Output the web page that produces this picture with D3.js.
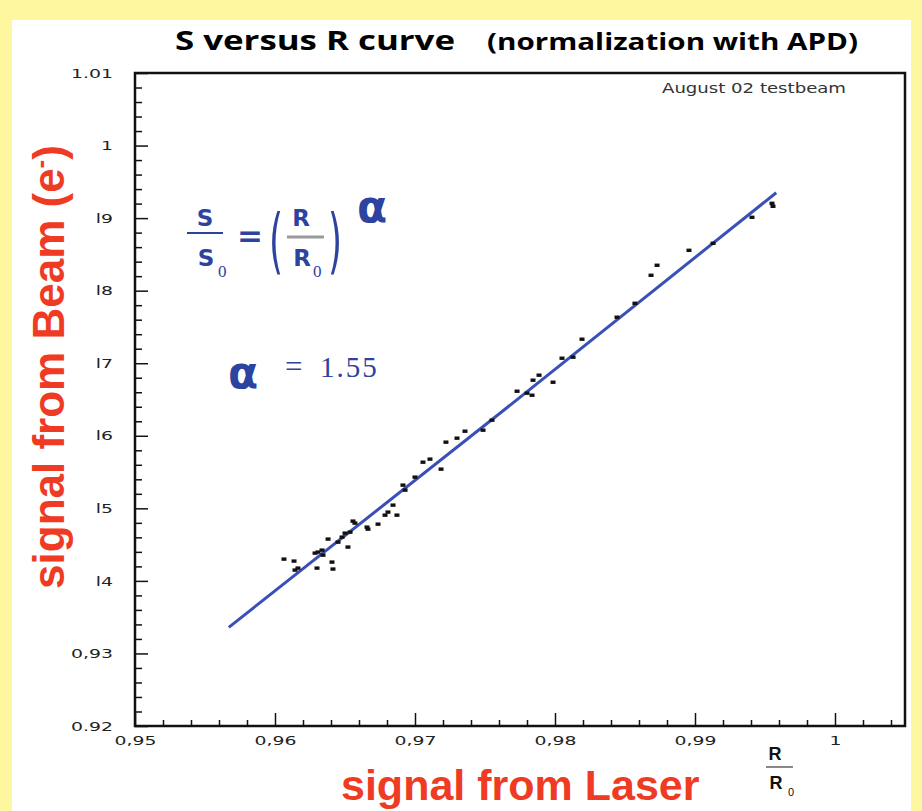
<!DOCTYPE html>
<html>
<head>
<meta charset="utf-8">
<script src="https://cdn.jsdelivr.net/npm/d3@7"></script>
<style>
  body { margin: 0; background: #fff; }
</style>
</head>
<body>
<svg id="chart" width="922" height="811" font-family="DejaVu Sans"></svg>
<script>
// tick values and labels as printed on the figure
const xTicks = [0.95, 0.96, 0.97, 0.98, 0.99, 1];
const xTickLabels = ['0,95', '0,96', '0,97', '0,98', '0,99', '1'];
const yTicks = [0.92, 0.93, 0.94, 0.95, 0.96, 0.97, 0.98, 0.99, 1, 1.01];
const yTickLabels = ['0.92', '0,93', 'l4', 'l5', 'l6', 'l7', 'l8', 'l9', '1', '1.01'];

// measured points: R/R0 (laser) and S/S0 (beam)
const laserR = [0.96064, 0.96136, 0.96143, 0.96164, 0.96286, 0.96307, 0.96336, 0.96343, 0.96300,
  0.96407, 0.96414, 0.96379, 0.96450, 0.96479, 0.96500, 0.96521, 0.96536, 0.96557, 0.96571,
  0.96657, 0.96664, 0.96736, 0.96786, 0.96807, 0.96871, 0.96843, 0.96914, 0.96929, 0.97000,
  0.97057, 0.97107, 0.97186, 0.97221, 0.97300, 0.97357, 0.97486, 0.97550, 0.97729, 0.97800,
  0.97836, 0.97843, 0.97886, 0.97986, 0.98050, 0.98129, 0.98193, 0.98443, 0.98571, 0.98686,
  0.98729, 0.98957, 0.99129, 0.99407, 0.99550, 0.99557];
const beamS = [0.94300, 0.94273, 0.94149, 0.94176, 0.94383, 0.94397, 0.94424, 0.94355, 0.94176,
  0.94259, 0.94163, 0.94576, 0.94534, 0.94603, 0.94658, 0.94466, 0.94672, 0.94824, 0.94796,
  0.94741, 0.94713, 0.94782, 0.94906, 0.94948, 0.94906, 0.95044, 0.95320, 0.95251, 0.95430,
  0.95636, 0.95678, 0.95540, 0.95912, 0.95967, 0.96063, 0.96077, 0.96215, 0.96614, 0.96587,
  0.96559, 0.96766, 0.96835, 0.96738, 0.97069, 0.97083, 0.97331, 0.97634, 0.97826, 0.98212,
  0.98350, 0.98556, 0.98653, 0.99011, 0.99204, 0.99163];

// fitted curve (alpha = 1.55)
const fitR = [0.9567, 0.9760, 0.9958];
const fitS = [0.9336, 0.9630, 0.9935];

const svg = d3.select('#chart');
const blue = '#2d43a0';
const red = '#ef3b23';

svg.append('rect').attr('width', 922).attr('height', 811).attr('fill', '#fff6a0');
svg.append('rect').attr('x', 12).attr('y', 20).attr('width', 899).attr('height', 791).attr('fill', '#fff');

const plot = {left: 135, right: 905, top: 73, bottom: 726};

const x = d3.scaleLinear().domain([0.95, 1.005]).range([plot.left, plot.right]);
const y = d3.scaleLinear().domain([0.92, 1.01]).range([plot.bottom, plot.top]);

const minorX = d3.range(0, 28).map(i => 0.95 + i * 0.002).filter(v => Math.abs(v * 100 - Math.round(v * 100)) > 1e-6);
const minorY = d3.range(0, 46).map(i => 0.92 + i * 0.002).filter(v => Math.abs(v * 100 - Math.round(v * 100)) > 1e-6);

// axes: ticks pointing into the frame
const gxMinor = svg.append('g').attr('transform', 'translate(0,' + plot.bottom + ')')
  .call(d3.axisBottom(x).tickValues(minorX).tickSize(-6).tickFormat(''));
const gx = svg.append('g').attr('transform', 'translate(0,' + plot.bottom + ')')
  .call(d3.axisBottom(x).tickValues(xTicks).tickSize(-13).tickPadding(10).tickFormat((d, i) => xTickLabels[i]));
const gyMinor = svg.append('g').attr('transform', 'translate(' + plot.left + ',0)')
  .call(d3.axisLeft(y).tickValues(minorY).tickSize(-7).tickFormat(''));
const gy = svg.append('g').attr('transform', 'translate(' + plot.left + ',0)')
  .call(d3.axisLeft(y).tickValues(yTicks).tickSize(-13).tickPadding(22).tickFormat((d, i) => yTickLabels[i]));

[gxMinor, gx, gyMinor, gy].forEach(g => {
  g.select('.domain').remove();
  g.selectAll('line').attr('stroke', '#111').attr('stroke-width', 1.5);
  g.attr('font-family', 'DejaVu Sans').attr('font-size', 13);
  g.selectAll('text').attr('fill', '#222');
});
gx.selectAll('text').attr('transform', 'scale(1.45,1)');
gy.selectAll('text').attr('x', -22 / 1.45).attr('transform', 'scale(1.45,1)');

svg.append('rect')
  .attr('x', plot.left).attr('y', plot.top)
  .attr('width', plot.right - plot.left).attr('height', plot.bottom - plot.top)
  .attr('fill', 'none').attr('stroke', '#111').attr('stroke-width', 2.5);

// fit line
const line = d3.line().x(d => x(d[0])).y(d => y(d[1]));
svg.append('path')
  .datum(fitR.map((r, i) => [r, fitS[i]]))
  .attr('d', line)
  .attr('fill', 'none')
  .attr('stroke', '#3a4fb8')
  .attr('stroke-width', 3);

// data points
svg.append('g').selectAll('rect')
  .data(laserR.map((r, i) => [r, beamS[i]]))
  .join('rect')
  .attr('x', d => x(d[0]) - 2.5)
  .attr('y', d => y(d[1]) - 1.7)
  .attr('width', 5)
  .attr('height', 3.4)
  .attr('fill', '#111');

// title
svg.append('text')
  .attr('x', 175).attr('y', 50)
  .attr('font-family', 'Open Sans').attr('font-weight', 'bold').attr('font-size', 27)
  .attr('textLength', 280).attr('lengthAdjust', 'spacingAndGlyphs')
  .text('S versus R curve');
svg.append('text')
  .attr('x', 487).attr('y', 50)
  .attr('font-family', 'Open Sans').attr('font-weight', 'bold').attr('font-size', 24)
  .attr('textLength', 371).attr('lengthAdjust', 'spacingAndGlyphs')
  .text('(normalization with APD)');

svg.append('text')
  .attr('x', 662).attr('y', 93)
  .attr('font-size', 14).attr('fill', '#333')
  .attr('textLength', 184).attr('lengthAdjust', 'spacingAndGlyphs')
  .text('August 02 testbeam');

// axis titles
const yLab = svg.append('text')
  .attr('transform', 'translate(64,367) rotate(-90)')
  .attr('text-anchor', 'middle')
  .attr('font-family', 'Liberation Sans').attr('font-weight', 'bold').attr('font-size', 44)
  .attr('fill', red);
yLab.append('tspan').text('signal from Beam (e');
yLab.append('tspan').attr('baseline-shift', 'super').attr('font-size', 26).text('-');
yLab.append('tspan').text(')');

svg.append('text')
  .attr('x', 341).attr('y', 800)
  .attr('font-family', 'Liberation Sans').attr('font-weight', 'bold').attr('font-size', 43)
  .attr('fill', red)
  .text('signal from Laser');

// R / R0 beside the x axis
const frac = svg.append('g').attr('font-family', 'Liberation Sans').attr('font-weight', 'bold').attr('fill', '#111');
frac.append('text').attr('x', 775).attr('y', 760).attr('text-anchor', 'middle').attr('font-size', 18).text('R');
frac.append('line').attr('x1', 766).attr('x2', 793).attr('y1', 767).attr('y2', 767).attr('stroke', '#888').attr('stroke-width', 2);
frac.append('text').attr('x', 776).attr('y', 789).attr('text-anchor', 'middle').attr('font-size', 18).text('R');
frac.append('text').attr('x', 788).attr('y', 796).attr('font-weight', 'normal').attr('font-size', 11).text('0');

// formula S/S0 = (R/R0)^alpha
const f = svg.append('g').attr('fill', blue);
f.append('text').attr('x', 205).attr('y', 226).attr('text-anchor', 'middle').attr('font-weight', 'bold').attr('font-size', 23).text('S');
f.append('line').attr('x1', 187).attr('x2', 223).attr('y1', 233).attr('y2', 233).attr('stroke', blue).attr('stroke-width', 2);
f.append('text').attr('x', 206).attr('y', 266).attr('text-anchor', 'middle').attr('font-weight', 'bold').attr('font-size', 23).text('S');
f.append('text').attr('x', 218).attr('y', 277).attr('font-family', 'Liberation Serif').attr('font-size', 17).text('0');
f.append('text').attr('x', 250).attr('y', 246).attr('text-anchor', 'middle').attr('font-weight', 'bold').attr('font-size', 31).text('=');
f.append('text').attr('x', 276).attr('y', 265).attr('text-anchor', 'middle').attr('font-size', 72).attr('transform', 'translate(276,0) scale(0.5,1) translate(-276,0)').text('(');
f.append('text').attr('x', 335).attr('y', 265).attr('text-anchor', 'middle').attr('font-size', 72).attr('transform', 'translate(335,0) scale(0.5,1) translate(-335,0)').text(')');
f.append('text').attr('x', 301).attr('y', 226).attr('text-anchor', 'middle').attr('font-weight', 'bold').attr('font-size', 23).text('R');
f.append('line').attr('x1', 287).attr('x2', 324).attr('y1', 237).attr('y2', 237).attr('stroke', '#999').attr('stroke-width', 3);
f.append('text').attr('x', 302).attr('y', 266).attr('text-anchor', 'middle').attr('font-weight', 'bold').attr('font-size', 23).text('R');
f.append('text').attr('x', 313).attr('y', 277).attr('font-family', 'Liberation Serif').attr('font-size', 17).text('0');
f.append('text').attr('x', 372).attr('y', 222).attr('text-anchor', 'middle').attr('font-weight', 'bold').attr('font-size', 44).text('α');

f.append('text').attr('x', 243).attr('y', 388).attr('text-anchor', 'middle').attr('font-weight', 'bold').attr('font-size', 44).text('α');
f.append('text').attr('x', 285).attr('y', 377).attr('font-family', 'Liberation Serif').attr('font-size', 31).text('=');
f.append('text').attr('x', 320).attr('y', 377).attr('font-family', 'Liberation Serif').attr('font-size', 29).attr('letter-spacing', 2).text('1.55');
</script>
</body>
</html>
